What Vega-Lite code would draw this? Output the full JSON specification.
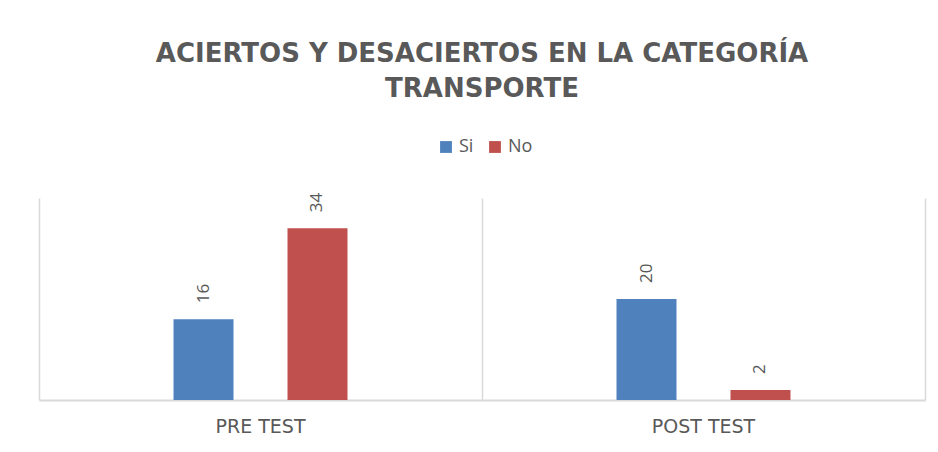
{
  "$schema": "https://vega.github.io/schema/vega-lite/v6.json",
  "width": 886,
  "height": 202,
  "autosize": {"type": "none"},
  "padding": {"left": 39, "top": 198, "right": 13, "bottom": 52},
  "background": "white",
  "config": {
    "view": {"stroke": null},
    "font": "Open Sans"
  },
  "title": {
    "text": ["ACIERTOS Y DESACIERTOS EN LA CATEGORÍA", "TRANSPORTE"],
    "anchor": "middle",
    "frame": "group",
    "font": "DejaVu Sans",
    "fontSize": 26,
    "fontWeight": "bold",
    "color": "#595959",
    "lineHeight": 35,
    "offset": 36
  },
  "data": {
    "values": [
      {"test": "PRE TEST", "serie": "Si", "valor": 16},
      {"test": "PRE TEST", "serie": "No", "valor": 34},
      {"test": "POST TEST", "serie": "Si", "valor": 20},
      {"test": "POST TEST", "serie": "No", "valor": 2}
    ]
  },
  "encoding": {
    "x": {
      "field": "test",
      "type": "nominal",
      "sort": ["PRE TEST", "POST TEST"],
      "scale": {"paddingInner": 0, "paddingOuter": 0},
      "axis": {
        "title": null,
        "bandPosition": 0,
        "grid": true,
        "gridColor": "#d9d9d9",
        "gridWidth": 1.5,
        "ticks": false,
        "domainColor": "#d9d9d9",
        "domainWidth": 2,
        "labelAngle": 0,
        "labelPadding": 17,
        "labelFontSize": 19,
        "labelColor": "#595959",
        "labelFont": "DejaVu Sans"
      }
    },
    "xOffset": {
      "field": "serie",
      "type": "nominal",
      "scale": {"domain": ["_a", "Si", "No", "_b"], "paddingInner": 0.4737, "paddingOuter": 0.18}
    },
    "y": {
      "field": "valor",
      "type": "quantitative",
      "scale": {"domain": [0, 40], "nice": false},
      "axis": {
        "orient": "right",
        "title": null,
        "labels": false,
        "ticks": false,
        "grid": false,
        "domain": true,
        "domainColor": "#d9d9d9",
        "domainWidth": 1.5
      }
    }
  },
  "layer": [
    {
      "mark": {"type": "bar"},
      "encoding": {
        "color": {
          "field": "serie",
          "type": "nominal",
          "scale": {"domain": ["Si", "No"], "range": ["#4F81BD", "#C0504D"]},
          "legend": {
            "title": null,
            "orient": "none",
            "legendX": 398,
            "legendY": -60,
            "direction": "horizontal",
            "symbolType": "square",
            "symbolSize": 140,
            "symbolStrokeWidth": 0,
            "labelFontSize": 18,
            "labelColor": "#595959",
            "labelFont": "Open Sans",
            "columnPadding": 12,
            "labelOffset": 4
          }
        }
      }
    },
    {
      "mark": {
        "type": "text",
        "angle": 270,
        "align": "left",
        "baseline": "middle",
        "dx": 16,
        "fontSize": 17,
        "color": "#595959",
        "font": "Open Sans"
      },
      "encoding": {
        "text": {"field": "valor", "type": "quantitative"}
      }
    }
  ]
}
